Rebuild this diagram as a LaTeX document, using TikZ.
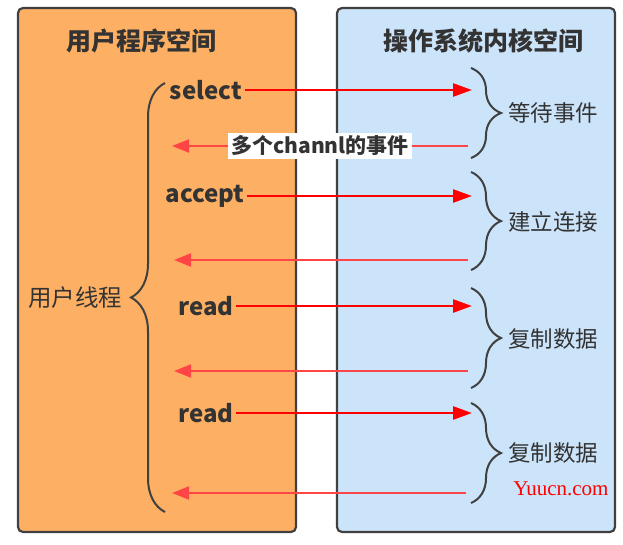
\documentclass[tikz,border=0pt]{standalone}
\usepackage{fontspec}
\usepackage{xcolor}
\setmainfont{Noto Sans CJK SC}
\newfontfamily\markfont{Liberation Serif}
\usetikzlibrary{arrows.meta,decorations.pathreplacing,positioning}
\definecolor{userbg}{HTML}{FDB063}
\definecolor{kernbg}{HTML}{CCE4FA}
\definecolor{rim}{HTML}{404040}
\definecolor{ink}{HTML}{333333}
\definecolor{callred}{HTML}{FF0000}
\definecolor{backred}{HTML}{FF4545}

\begin{document}
\begin{tikzpicture}[x=1pt,y=-1pt,
	every node/.style={text=ink,inner sep=2.5pt},
	space/.style={draw=rim,line width=2.2pt,rounded corners=5pt},
	title/.style={font=\fontsize{25}{29}\selectfont\bfseries},
	call/.style={font=\fontsize{24}{28}\selectfont\bfseries},
	tag/.style={font=\fontsize{22.5}{26}\selectfont},
	toK/.style={draw=callred,line width=2.6pt,-{Triangle[length=19pt,width=13pt]}},
	toU/.style={draw=backred,line width=2pt,-{Triangle[length=17pt,width=13pt]}},
	curly/.style={draw=rim,line width=2pt,decorate,decoration={brace,amplitude=#1}}]
	\useasboundingbox (0,0) rectangle (623,544);

	\draw[space,fill=userbg] (18,8) rectangle (296,532);
	\draw[space,fill=kernbg] (337,8) rectangle (615,532);

	\node at (141,41) [title] (uspace) {用户程序空间};
	\node at (483,41) [title] (kspace) {操作系统内核空间};

	\node at (75,298) [tag,font=\fontsize{23.5}{27}\selectfont] (uthread) {用户线程};
	\draw[curly=34pt] (165,512) -- (165,83);

	\node at (206,90) [call] (sel) {select};
	\node at (205,196) [call] (acc) {accept};
	\node at (206,306) [call] (rdA) {read};
	\node at (206,413) [call] (rdB) {read};

	\coordinate (selK) at (472,90);
	\coordinate (accK) at (472,196);
	\coordinate (rdAK) at (472,306);
	\coordinate (rdBK) at (472,413);
	\draw[toK] (sel) -- (selK);
	\draw[toK] (acc) -- (accK);
	\draw[toK] (rdA) -- (rdAK);
	\draw[toK] (rdB) -- (rdBK);

	\coordinate (evK) at (468,146);   \coordinate (evU) at (172,146);
	\coordinate (cnK) at (468,260);   \coordinate (cnU) at (174,260);
	\coordinate (cpAK) at (468,371);  \coordinate (cpAU) at (174,371);
	\coordinate (cpBK) at (466,493);  \coordinate (cpBU) at (172,493);
	\draw[toU] (evK) -- (evU) node[midway,fill=white,inner sep=3pt,font=\fontsize{21}{25}\selectfont\bfseries] (ev) {多个channl的事件};
	\draw[toU] (cnK) -- (cnU);
	\draw[toU] (cpAK) -- (cpAU);
	\draw[toU] (cpBK) -- (cpBU);

	\draw[curly=30pt] (471,68) -- (471,158);
	\draw[curly=30pt] (471,172) -- (471,270);
	\draw[curly=30pt] (471,288) -- (471,388);
	\draw[curly=30pt] (471,403) -- (471,503);

	\node at (553,113) [tag] (wait) {等待事件};
	\node at (553,222) [tag] (conn) {建立连接};
	\node at (553,339) [tag] (cpA) {复制数据};
	\node at (553,453) [tag] (cpB) {复制数据};

	\node at (561,489) [text=red,font=\markfont\fontsize{21}{25}\selectfont] (mark) {Yuucn.com};
\end{tikzpicture}
\end{document}
